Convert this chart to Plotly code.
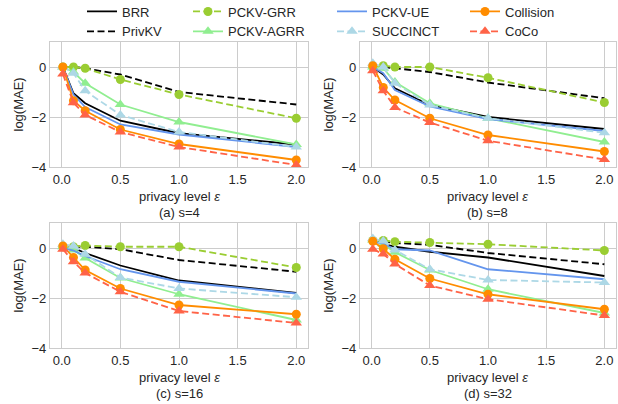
import plotly.graph_objects as go

# privacy levels (x values)
eps = [0.01, 0.1, 0.2, 0.5, 1.0, 2.0]
x_ticks = [0.0, 0.5, 1.0, 1.5, 2.0]
y_ticks = [-4, -2, 0]
panel_titles = ["(a) s=4", "(b) s=8", "(c) s=16", "(d) s=32"]
method_names = ["BRR", "PrivKV", "PCKV-GRR", "PCKV-AGRR", "PCKV-UE", "SUCCINCT", "Collision", "CoCo"]
x_title = "privacy level <i>ε</i>"
y_title = "log(MAE)"

# (a) s=4
brr_s4 = [0.0, -1.05, -1.45, -2.15, -2.65, -3.1]
privkv_s4 = [0.0, 0.0, -0.05, -0.3, -1.0, -1.5]
grr_s4 = [0.0, 0.0, -0.05, -0.5, -1.1, -2.05]
agrr_s4 = [0.0, -0.2, -0.65, -1.5, -2.2, -3.1]
ue_s4 = [0.0, -1.1, -1.6, -2.3, -2.7, -3.2]
succinct_s4 = [0.0, -0.25, -0.95, -1.92, -2.6, -3.2]
collision_s4 = [0.0, -1.35, -1.75, -2.5, -3.08, -3.72]
coco_s4 = [-0.28, -1.43, -1.92, -2.6, -3.2, -3.92]

# (b) s=8
brr_s8 = [0.0, -0.3, -0.85, -1.52, -2.0, -2.48]
privkv_s8 = [0.0, 0.0, -0.05, -0.2, -0.62, -1.25]
grr_s8 = [0.0, 0.05, 0.0, 0.0, -0.43, -1.42]
agrr_s8 = [0.0, -0.05, -0.6, -1.45, -2.05, -3.0]
ue_s8 = [0.0, -0.25, -0.92, -1.58, -2.08, -2.56]
succinct_s8 = [0.15, 0.0, -0.65, -1.52, -2.05, -2.63]
collision_s8 = [0.05, -0.82, -1.32, -2.05, -2.72, -3.38]
coco_s8 = [-0.15, -0.95, -1.62, -2.22, -2.95, -3.7]

# (c) s=16
brr_s16 = [0.05, 0.0, -0.2, -0.7, -1.3, -1.8]
privkv_s16 = [0.05, 0.05, 0.05, -0.05, -0.48, -0.95]
grr_s16 = [0.05, 0.05, 0.1, 0.05, 0.05, -0.78]
agrr_s16 = [0.05, -0.08, -0.4, -1.2, -1.85, -2.88]
ue_s16 = [0.0, -0.1, -0.32, -0.85, -1.35, -1.82]
succinct_s16 = [0.15, 0.08, -0.25, -1.18, -1.62, -1.97]
collision_s16 = [0.08, -0.38, -0.88, -1.62, -2.28, -2.65]
coco_s16 = [-0.05, -0.55, -1.0, -1.75, -2.52, -3.0]

# (d) s=32
brr_s32 = [0.3, 0.15, 0.05, -0.15, -0.38, -1.12]
privkv_s32 = [0.3, 0.25, 0.2, 0.13, -0.2, -0.65]
grr_s32 = [0.3, 0.3, 0.25, 0.22, 0.15, -0.1]
agrr_s32 = [0.32, 0.15, -0.17, -0.88, -1.65, -2.6]
ue_s32 = [0.25, 0.18, -0.05, -0.1, -0.85, -1.25]
succinct_s32 = [0.38, 0.28, -0.08, -0.85, -1.28, -1.38]
collision_s32 = [0.27, -0.03, -0.45, -1.22, -1.85, -2.45]
coco_s32 = [-0.05, -0.24, -0.64, -1.5, -2.05, -2.7]

panels = [
    [brr_s4, privkv_s4, grr_s4, agrr_s4, ue_s4, succinct_s4, collision_s4, coco_s4],
    [brr_s8, privkv_s8, grr_s8, agrr_s8, ue_s8, succinct_s8, collision_s8, coco_s8],
    [brr_s16, privkv_s16, grr_s16, agrr_s16, ue_s16, succinct_s16, collision_s16, coco_s16],
    [brr_s32, privkv_s32, grr_s32, agrr_s32, ue_s32, succinct_s32, collision_s32, coco_s32],
]

DASH = "7px,3.5px"
styles = [
    dict(color="#000000", dash="solid", symbol=None),
    dict(color="#000000", dash=DASH, symbol=None),
    dict(color="#9ACD32", dash=DASH, symbol="circle"),
    dict(color="#90EE90", dash="solid", symbol="triangle-up"),
    dict(color="#6495ED", dash="solid", symbol=None),
    dict(color="#ADD8E6", dash=DASH, symbol="triangle-up"),
    dict(color="#FF8C00", dash="solid", symbol="circle"),
    dict(color="#FF6347", dash=DASH, symbol="triangle-up"),
]
legend_ids = ["legend", "legend", "legend2", "legend2", "legend3", "legend3", "legend4", "legend4"]

W, H = 618, 404
# panel pixel boxes: (left, right, top, bottom)
boxes = [(50, 308, 42, 167), (360, 616, 42, 167), (50, 308, 223, 348), (360, 616, 223, 348)]


def px_x(x):
    return x / W


def px_y(y):
    return 1 - y / H


FONT = "Liberation Sans, Arial, sans-serif"
TXT = "#262626"
GRID = "#cccccc"

fig = go.Figure()
for p, series in enumerate(panels):
    xa = "x" if p == 0 else f"x{p+1}"
    ya = "y" if p == 0 else f"y{p+1}"
    for m, vals in enumerate(series):
        st = styles[m]
        mode = "lines+markers" if st["symbol"] else "lines"
        marker = dict(symbol=st["symbol"], size=10 if st["symbol"] == "triangle-up" else 9,
                      color=st["color"], line=dict(width=0)) if st["symbol"] else None
        fig.add_trace(go.Scatter(
            x=eps, y=vals, mode=mode, name=method_names[m],
            line=dict(color=st["color"], width=1.8, dash=st["dash"]),
            marker=marker, xaxis=xa, yaxis=ya,
            legendgroup=method_names[m], showlegend=(p == 0),
            legend=legend_ids[m],
        ))

layout = dict(
    width=W, height=H, margin=dict(l=0, r=0, t=0, b=0, autoexpand=False),
    paper_bgcolor="white", plot_bgcolor="white",
    font=dict(family=FONT, size=13, color=TXT),
    showlegend=True,
)
for p, (l, r, t, b) in enumerate(boxes):
    sx = "" if p == 0 else str(p + 1)
    common = dict(showgrid=True, gridcolor=GRID, gridwidth=1, showline=True, linecolor=GRID,
                  linewidth=1.3, mirror=True, zeroline=False, ticks="",
                  tickfont=dict(family=FONT, size=13, color=TXT), automargin=False)
    layout["xaxis" + sx] = dict(domain=[px_x(l), px_x(r)], range=[-0.1, 2.1], tickvals=x_ticks,
                                tickformat=".1f", anchor="y" + sx, **common)
    layout["yaxis" + sx] = dict(domain=[px_y(b), px_y(t)], range=[-4, 1], tickvals=y_ticks,
                                anchor="x" + sx, **common)

annotations = []
for p, (l, r, t, b) in enumerate(boxes):
    cx = (l + r) / 2
    afont = dict(family=FONT, size=13, color=TXT)
    annotations.append(dict(text=x_title, x=px_x(cx), y=px_y(b + 29), xref="paper", yref="paper",
                            showarrow=False, xanchor="center", yanchor="middle", font=afont))
    annotations.append(dict(text=panel_titles[p], x=px_x(cx), y=px_y(b + 45), xref="paper",
                            yref="paper", showarrow=False, xanchor="center", yanchor="middle",
                            font=afont))
    annotations.append(dict(text=y_title, x=px_x(l - 32), y=px_y((t + b) / 2), xref="paper",
                            yref="paper", showarrow=False, xanchor="center", yanchor="middle",
                            textangle=-90, font=afont))
layout["annotations"] = annotations

legend_x = [82, 188, 332, 465]
for i, lid in enumerate(["legend", "legend2", "legend3", "legend4"]):
    layout[lid] = dict(x=px_x(legend_x[i]), y=px_y(-3.5), xanchor="left", yanchor="top",
                       xref="paper", yref="paper",
                       bgcolor="rgba(0,0,0,0)", orientation="v", tracegroupgap=0,
                       font=dict(family=FONT, size=13, color=TXT), itemwidth=30)

fig.update_layout(**layout)
fig.write_html("out.html", config={"displayModeBar": False},
               post_script="document.body.style.margin='0';document.body.style.overflow='hidden';")
